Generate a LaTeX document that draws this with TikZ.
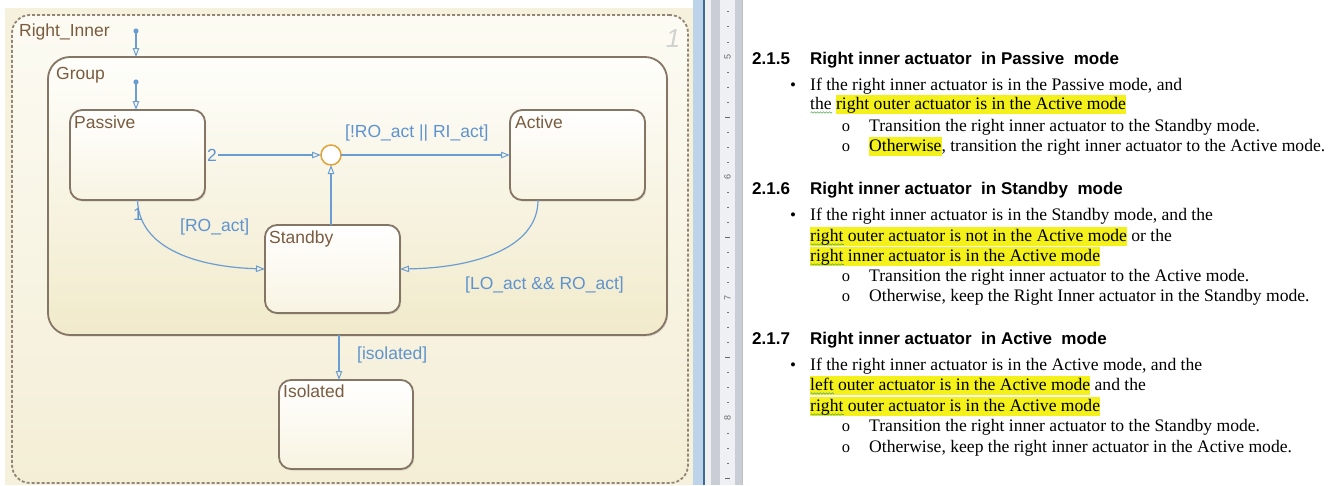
\documentclass[tikz,border=0pt]{standalone}
\usepackage{fontspec}
\setmainfont{Liberation Serif}
\newfontfamily\arial{Liberation Sans}
\usetikzlibrary{arrows.meta,shadows,calc,decorations.pathmorphing}
\definecolor{panelbg}{HTML}{F6F1DD}
\definecolor{riTop}{HTML}{FCFBF3}
\definecolor{riBot}{HTML}{F4EED6}
\definecolor{grTop}{HTML}{FEFEFB}
\definecolor{grBot}{HTML}{F1EACB}
\definecolor{stTop}{HTML}{FFFFFF}
\definecolor{stBot}{HTML}{F8F4E2}
\definecolor{stBorder}{HTML}{857565}
\definecolor{dashC}{HTML}{948676}
\definecolor{stText}{HTML}{7A5C40}
\definecolor{trC}{HTML}{6C9DD2}
\definecolor{trText}{HTML}{5F93CE}
\definecolor{juncC}{HTML}{E2A236}
\definecolor{hly}{HTML}{F3F01A}
\definecolor{wavyc}{HTML}{5CAE5C}
\definecolor{rulBlue}{HTML}{BCD3EA}
\definecolor{rulDark}{HTML}{3D6B96}
\definecolor{rulGrey}{HTML}{C9CED6}
\definecolor{rulLight}{HTML}{EEF0F3}
\newlength\wvlen
\newcommand\hl[1]{{\setlength\fboxsep{0pt}\colorbox{hly}{\rule[-4.5pt]{0pt}{18.5pt}#1}}}
\newcommand\wv[1]{\settowidth\wvlen{#1}\rlap{\tikz[baseline=0pt,x=1pt,y=1pt]{\draw[wavyc,line width=0.6pt,decorate,decoration={snake,amplitude=0.7pt,segment length=3pt}] (0pt,-3.5pt) -- (\wvlen,-3.5pt);}}#1}
\tikzset{
  statebox/.style={draw=stBorder, line width=1.8pt, rounded corners=12pt,
    top color=stTop, bottom color=stBot, minimum width=135pt, minimum height=90pt,
    inner sep=0pt, outer sep=0pt, anchor=north west,
    drop shadow={opacity=0.25, shadow xshift=1.2pt, shadow yshift=-1.5pt}},
  stlabel/.style={font=\arial\fontsize{17.5}{20}\selectfont, text=stText, anchor=base west, inner sep=0pt},
  trlabel/.style={font=\arial\fontsize{17.5}{20}\selectfont, text=trText, anchor=base west, inner sep=0pt},
  tr/.style={draw=trC, line width=1.2pt, -{Triangle[open, length=9pt, width=6.5pt, line width=1pt]}},
  head/.style={font=\arial\bfseries\fontsize{17}{20}\selectfont, anchor=base west, inner sep=0pt},
  body/.style={font=\fontsize{17.6}{20}\selectfont, anchor=base west, inner sep=0pt},
  bul/.style={font=\fontsize{17}{20}\selectfont, anchor=base, inner sep=0pt},
  sbul/.style={font=\fontsize{16.5}{20}\selectfont, anchor=base, inner sep=0pt},
}
\begin{document}
\begin{tikzpicture}[x=1pt,y=1pt]
\useasboundingbox (0,0) rectangle (1341,-485);
\fill[white] (0,0) rectangle (1341,-485);
% ---------- left panel ----------
\fill[panelbg] (5,-8) rectangle (693,-485);
\node[draw=dashC, line width=1.8pt, dash pattern=on 3pt off 2pt, rounded corners=18pt,
  top color=riTop, bottom color=riBot, minimum width=676pt, minimum height=468pt,
  inner sep=0pt, outer sep=0pt, anchor=north west] (ri) at (12,-15) {};
\node[stlabel] (riL) at (19,-36) {Right\_Inner};
\node[font=\arial\itshape\fontsize{26}{28}\selectfont, text=black!18, anchor=base, inner sep=0pt] (riN) at (673,-47) {1};
\node[draw=stBorder, line width=1.8pt, rounded corners=22pt, top color=grTop, bottom color=grBot,
  minimum width=619pt, minimum height=278pt, inner sep=0pt, outer sep=0pt, anchor=north west,
  drop shadow={opacity=0.25, shadow xshift=1.2pt, shadow yshift=-1.5pt}] (group) at (48,-57) {};
\node[stlabel] (groupL) at (56,-79) {Group};
% states
\node[statebox] (passive) at (70,-110) {};
\node[statebox] (active) at (510,-110) {};
\node[statebox, minimum height=88pt] (standby) at (265,-225) {};
\node[statebox, minimum width=134pt, minimum height=89pt] (isolated) at (279,-380) {};
\node[stlabel] (passiveL) at (74,-128) {Passive};
\node[stlabel] (activeL) at (515,-128) {Active};
\node[stlabel] (standbyL) at (269,-243) {Standby};
\node[stlabel] (isolatedL) at (283,-397) {Isolated};
% junction
\node[circle, draw=juncC, line width=1.5pt, fill=white, minimum size=20pt, inner sep=0pt, outer sep=0pt] (junc) at (331,-155) {};
% default transitions
\coordinate (d1) at (136,-31);
\coordinate (d2) at (136,-82);
\fill[trC] (d1) circle (2.6pt);
\fill[trC] (d2) circle (2.6pt);
\draw[tr] (d1) -- (d1 |- group.north);
\draw[tr] (d2) -- (d2 |- passive.north);
% transitions
\draw[tr, shorten <=13pt] (passive.east) -- (junc.west);
\draw[tr] (junc.east) -- (active.west);
\draw[tr] (junc |- standby.north) -- (junc.south);
\draw[tr] (passive.south) .. controls (139,-250) and (200,-267) .. (standby.west);
\coordinate (actOut) at ($(active.south west)+(28,0)$);
\draw[tr] (actOut) .. controls (538,-250) and (470,-268) .. (standby.east);
\coordinate (grOut) at ($(group.south west)+(291,0)$);
\draw[tr] (grOut) -- (grOut |- isolated.north);
% transition labels
\node[trlabel] (l2) at (207,-161) {2};
\node[trlabel] (l1) at (133,-220) {1};
\node[trlabel] (lA) at (345,-137) {[!RO\_act || RI\_act]};
\node[trlabel] (lB) at (180,-231) {[RO\_act]};
\node[trlabel] (lC) at (465,-289) {[LO\_act \&\& RO\_act]};
\node[trlabel] (lD) at (357,-359) {[isolated]};
% ---------- ruler / separator ----------
\fill[rulBlue] (693,0) rectangle (703,-485);
\fill[rulDark] (703,0) rectangle (705,-485);
\fill[black!6] (705,0) rectangle (711,-485);
\fill[rulGrey] (711,0) rectangle (720,-485);
\fill[rulLight] (720,0) rectangle (735,-485);
\fill[rulGrey] (735,0) rectangle (742,-485);
\draw[black!25, line width=0.8pt] (742.5,0) -- (742.5,-485);
\foreach \j in {-3,...,28}{
  \pgfmathtruncatemacro\m{mod(\j+80,8)}
  \pgfmathsetmacro\yy{-(57+15.04*\j)}
  \ifnum\m=0
    \pgfmathtruncatemacro\num{5+(\j/8)}
    \node[font=\arial\fontsize{9}{10}\selectfont, text=black!60, rotate=90, inner sep=0pt] at (727.5,\yy) {\num};
  \else\ifnum\m=4
    \draw[black!60, line width=0.9pt] (725,\yy) -- (730,\yy);
  \else
    \draw[black!55, line width=0.9pt] (727,\yy) -- (728.5,\yy);
  \fi\fi
}
% ---------- document text ----------
% 2.1.5
\node[head] (h1n) at (752,-64) {2.1.5};
\node[head] (h1) at (810,-64) {Right inner actuator\ \ in Passive\ \ mode};
\node[bul] (b1) at (793,-90) {•};
\node[body] (t11) at (810,-90) {If the right inner actuator is in the Passive mode, and};
\node[body] (t12) at (810,-109) {\wv{the} \hl{right outer actuator is in the Active mode}};
\node[sbul] (s11) at (846,-131) {o};
\node[body] (t13) at (869,-131) {Transition the right inner actuator to the Standby mode.};
\node[sbul] (s12) at (846,-151) {o};
\node[body] (t14) at (869,-151) {\hl{Otherwise}, transition the right inner actuator to the Active mode.};
% 2.1.6
\node[head] (h2n) at (752,-194) {2.1.6};
\node[head] (h2) at (810,-194) {Right inner actuator\ \ in Standby\ \ mode};
\node[bul] (b2) at (793,-220) {•};
\node[body] (t21) at (810,-220) {If the right inner actuator is in the Standby mode, and the};
\node[body] (t22) at (810,-241) {\hl{\wv{right} outer actuator is not in the Active mode} or the};
\node[body] (t23) at (810,-261) {\hl{\wv{right} inner actuator is in the Active mode}};
\node[sbul] (s21) at (846,-281) {o};
\node[body] (t24) at (869,-281) {Transition the right inner actuator to the Active mode.};
\node[sbul] (s22) at (846,-301) {o};
\node[body] (t25) at (869,-301) {Otherwise, keep the Right Inner actuator in the Standby mode.};
% 2.1.7
\node[head] (h3n) at (752,-344) {2.1.7};
\node[head] (h3) at (810,-344) {Right inner actuator\ \ in Active\ \ mode};
\node[bul] (b3) at (793,-370) {•};
\node[body] (t31) at (810,-370) {If the right inner actuator is in the Active mode, and the};
\node[body] (t32) at (810,-390) {\hl{\wv{left} outer actuator is in the Active mode} and the};
\node[body] (t33) at (810,-411) {\hl{\wv{right} outer actuator is in the Active mode}};
\node[sbul] (s31) at (846,-431) {o};
\node[body] (t34) at (869,-431) {Transition the right inner actuator to the Standby mode.};
\node[sbul] (s32) at (846,-452) {o};
\node[body] (t35) at (869,-452) {Otherwise, keep the right inner actuator in the Active mode.};
\end{tikzpicture}
\end{document}
